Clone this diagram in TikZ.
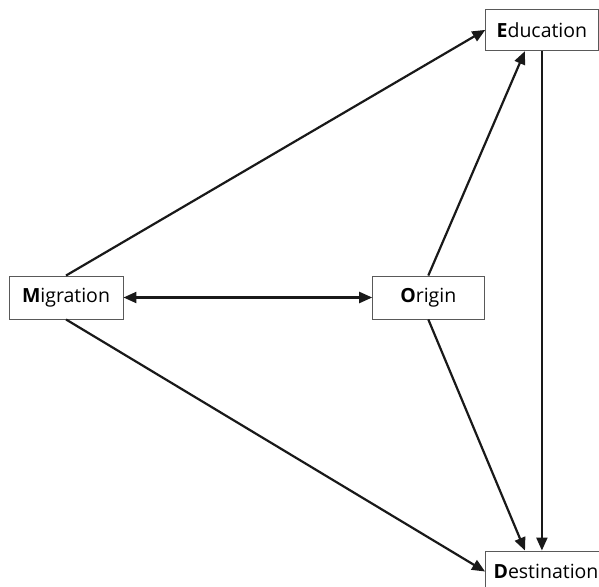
\documentclass[tikz,border=0pt]{standalone}
\usepackage{fontspec}
\setmainfont{Open Sans}
\usetikzlibrary{arrows.meta}
\begin{document}
\begin{tikzpicture}[x=1bp,y=-1bp,
  box/.style={draw=black!65, line width=0.9bp, fill=white, inner sep=0pt,
    font=\fontsize{19.5bp}{23bp}\selectfont},
  tip/.tip={Triangle[length=13bp,width=11bp]},
  link/.style={line width=2.2bp, draw=black!90, -tip},
  dlink/.style={line width=2.2bp, draw=black!90, tip-tip},
]
\useasboundingbox (0,0) rectangle (599,587);
\clip (0,0) rectangle (599,587);
\node[box, minimum width=112.3bp, minimum height=41.7bp] (edu) at (541.9,29.9) {\textbf{E}ducation};
\node[box, minimum width=114bp, minimum height=43bp] (mig) at (66,297.5) {\textbf{M}igration};
\node[box, minimum width=111.3bp, minimum height=43bp] (ori) at (428.3,297.5) {\textbf{O}rigin};
\node[box, minimum width=121bp, minimum height=41bp] (dest) at (546,571.5) {\textbf{D}estination};
\coordinate (eduin) at ([xshift=-17bp]edu.south);
\coordinate (destin) at ([xshift=-21bp]dest.north);
\coordinate (destv) at (edu.south |- dest.north);
\draw[link] (mig.north) -- (edu.west);
\draw[link] (mig.south) -- (dest.west);
\draw[dlink] (mig.east) -- (ori.west);
\draw[link] (ori.north) -- (eduin);
\draw[link] (ori.south) -- (destin);
\draw[link] (edu.south) -- (destv);
\end{tikzpicture}
\end{document}
